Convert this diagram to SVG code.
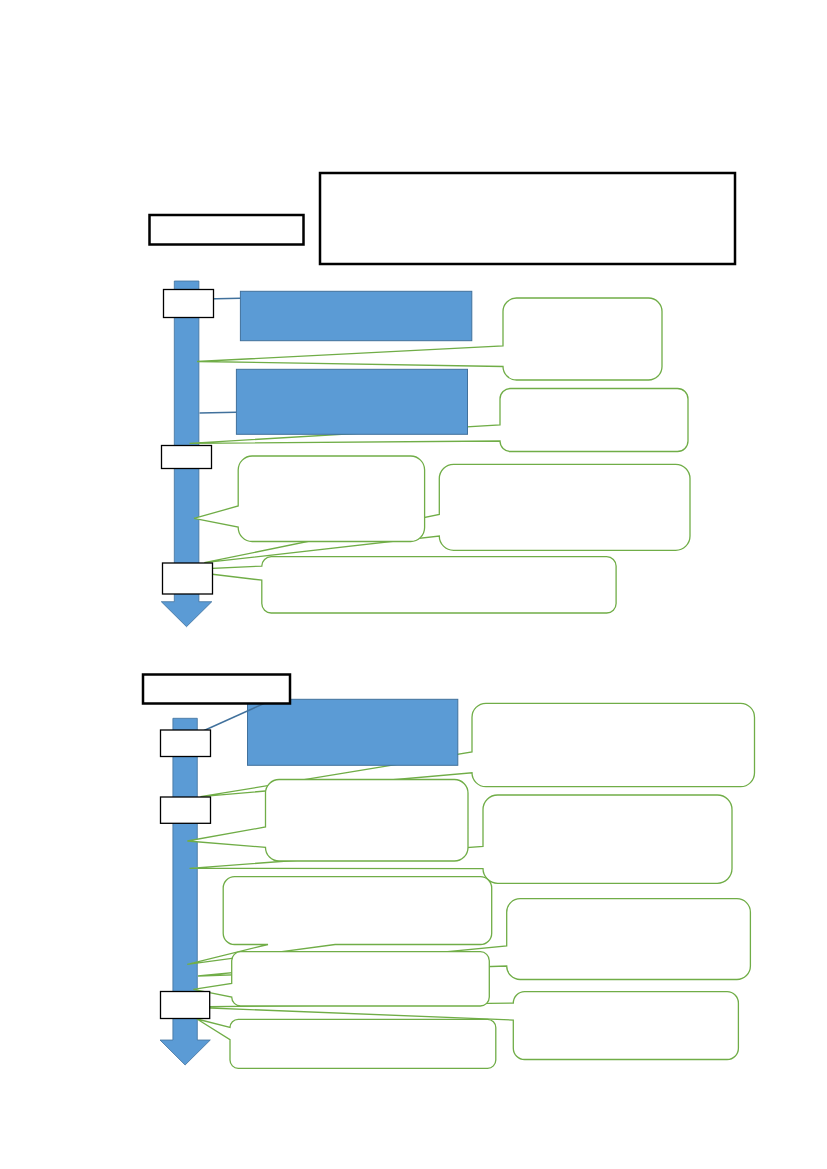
<svg xmlns="http://www.w3.org/2000/svg" width="827" height="1169" viewBox="0 0 827 1169">
<style>
.bg{fill:#ffffff}
.arrow{fill:#5B9BD5;stroke:#41719C;stroke-width:0.8}
.blue{fill:#5B9BD5;stroke:#41719C;stroke-width:1}
.call{fill:#ffffff;stroke:#70AD47;stroke-width:1.3;stroke-linejoin:miter}
.box{fill:#ffffff;stroke:#000000;stroke-width:1.3}
.title{fill:#ffffff;stroke:#000000;stroke-width:2.5}
.conn{fill:none;stroke:#41719C;stroke-width:1.5}
</style>
<rect class="bg" x="0" y="0" width="827" height="1169"/>

<!-- Section 1 -->
<g id="timeline1"><polygon class="arrow" points="174.3,281 198.9,281 198.9,601.7 211.8,601.7 186.5,626.7 161.3,601.7 174.3,601.7"/></g>
<g id="callout1"><path class="call" d="M516.5,298 H648.5 A13.5,13.5 0 0 1 662,311.5 V366.5 A13.5,13.5 0 0 1 648.5,380 H516.5 A13.5,13.5 0 0 1 503,366.5 L197,361.5 L503,346 V311.5 A13.5,13.5 0 0 1 516.5,298 Z"/></g>
<g id="callout2"><path class="call" d="M510.5,388.5 H677.5 A10.5,10.5 0 0 1 688,399 V441 A10.5,10.5 0 0 1 677.5,451.5 H510.5 A10.5,10.5 0 0 1 500,441 L189.5,443.3 L500,425 V399 A10.5,10.5 0 0 1 510.5,388.5 Z"/></g>
<g id="callout4"><path class="call" d="M453.6,464.3 H675.7 A14.3,14.3 0 0 1 690,478.6 V536 A14.3,14.3 0 0 1 675.7,550.3 H453.6 A14.3,14.3 0 0 1 439.3,536 L204.3,562.7 L439.3,514.5 V478.6 A14.3,14.3 0 0 1 453.6,464.3 Z"/></g>
<g id="callout3"><path class="call" d="M252.2,456 H410.6 A14,14 0 0 1 424.6,470 V527.5 A14,14 0 0 1 410.6,541.5 H252.2 A14,14 0 0 1 238.2,527.5 V527 L194,518.3 L238.2,506 V470 A14,14 0 0 1 252.2,456 Z"/></g>
<g id="callout5"><path class="call" d="M271.2,556.7 H606.7 A9.4,9.4 0 0 1 616.1,566.1 V603.6 A9.4,9.4 0 0 1 606.7,613 H271.2 A9.4,9.4 0 0 1 261.8,603.6 V580.2 L177,570 L261.8,566.1 A9.4,9.4 0 0 1 271.2,556.7 Z"/></g>
<g id="block1"><rect class="blue" x="240.4" y="291.3" width="231.4" height="49.4"/></g>
<g id="block2"><rect class="blue" x="236.4" y="369.3" width="231.1" height="65"/></g>
<g id="connectors1">
<line class="conn" x1="205" y1="299" x2="240.4" y2="298.3"/>
<line class="conn" x1="199.5" y1="413" x2="236.4" y2="412.2"/>
</g>
<g id="marker1a"><rect class="box" x="163.5" y="289.5" width="50" height="28"/></g>
<g id="marker1b"><rect class="box" x="161.5" y="445.5" width="50" height="23"/></g>
<g id="marker1c"><rect class="box" x="162.5" y="563" width="50" height="31"/></g>
<g id="label1"><rect class="title" x="149.5" y="215" width="154" height="29.5"/></g>
<g id="header1"><rect class="title" x="320" y="173" width="415" height="91"/></g>

<!-- Section 2 -->
<g id="timeline2"><polygon class="arrow" points="172.9,718.3 197.3,718.3 197.3,1040 210.3,1040 185.1,1065 160,1040 172.9,1040"/></g>
<g id="calloutA"><path class="call" d="M485.9,703.3 H740.6 A13.9,13.9 0 0 1 754.5,717.2 V772.8 A13.9,13.9 0 0 1 740.6,786.7 H485.9 A13.9,13.9 0 0 1 472,772.8 L200.5,796.7 L472,752 V717.2 A13.9,13.9 0 0 1 485.9,703.3 Z"/></g>
<g id="calloutC"><path class="call" d="M497.7,795 H717.3 A14.7,14.7 0 0 1 732,809.7 V868.6 A14.7,14.7 0 0 1 717.3,883.3 H497.7 A14.7,14.7 0 0 1 483,868.6 L189.5,868.3 L483,846.5 V809.7 A14.7,14.7 0 0 1 497.7,795 Z"/></g>
<g id="calloutE"><path class="call" d="M520.2,898.7 H736.9 A13.5,13.5 0 0 1 750.4,912.2 V966 A13.5,13.5 0 0 1 736.9,979.5 H520.2 A13.5,13.5 0 0 1 506.7,966 L198,976 L506.7,945.8 V912.2 A13.5,13.5 0 0 1 520.2,898.7 Z"/></g>
<g id="calloutG"><path class="call" d="M524.6,991.7 H727.1 A11.3,11.3 0 0 1 738.4,1003 V1048.2 A11.3,11.3 0 0 1 727.1,1059.5 H524.6 A11.3,11.3 0 0 1 513.3,1048.2 V1020 L185,1007 L513.3,1003 A11.3,11.3 0 0 1 524.6,991.7 Z"/></g>
<g id="calloutD"><path class="call" d="M234.5,876.7 H480.4 A11.3,11.3 0 0 1 491.7,888 V933.2 A11.3,11.3 0 0 1 480.4,944.5 H335.1 L187.3,964.3 L268,944.5 H234.5 A11.3,11.3 0 0 1 223.2,933.2 V888 A11.3,11.3 0 0 1 234.5,876.7 Z"/></g>
<g id="calloutH"><path class="call" d="M238.2,1019.3 H487.6 A8.2,8.2 0 0 1 495.8,1027.5 V1060.1 A8.2,8.2 0 0 1 487.6,1068.3 H238.2 A8.2,8.2 0 0 1 230,1060.1 V1039.7 L197,1019 L230,1027.5 A8.2,8.2 0 0 1 238.2,1019.3 Z"/></g>
<g id="calloutB"><path class="call" d="M279.1,779.5 H454.4 A13.6,13.6 0 0 1 468,793.1 V847.4 A13.6,13.6 0 0 1 454.4,861 H279.1 A13.6,13.6 0 0 1 265.5,847.4 L187.3,841 L265.5,827 V793.1 A13.6,13.6 0 0 1 279.1,779.5 Z"/></g>
<g id="calloutF"><path class="call" d="M240.7,951.7 H480.3 A9,9 0 0 1 489.3,960.7 V997 A9,9 0 0 1 480.3,1006 H240.7 A9,9 0 0 1 231.7,997 L193.3,989.3 L231.7,983.4 V960.7 A9,9 0 0 1 240.7,951.7 Z"/></g>
<g id="block3"><rect class="blue" x="247.5" y="699.3" width="210.3" height="66"/></g>
<g id="connectors2">
<line class="conn" x1="203" y1="731" x2="265" y2="703"/>
</g>
<g id="marker2a"><rect class="box" x="160.5" y="730" width="50" height="26.5"/></g>
<g id="marker2b"><rect class="box" x="160.5" y="797" width="50" height="26.3"/></g>
<g id="marker2c"><rect class="box" x="160.5" y="991.5" width="49.2" height="27"/></g>
<g id="label2"><rect class="title" x="143" y="674.5" width="147" height="29"/></g>
</svg>
